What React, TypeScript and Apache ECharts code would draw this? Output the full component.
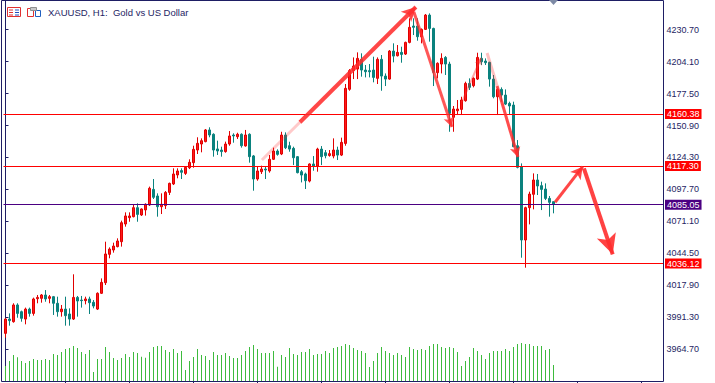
import React, { useEffect, useRef } from "react";
import * as echarts from "echarts";

// ---- Data (XAUUSD H1) ----
const opens = [
  3978.1, 3990.0, 3987.8, 4001.7, 3996.1, 3990.0, 3998.3, 3994.7, 4006.9, 4007.2,
  4010.0, 4007.2, 4008.6, 4003.1, 3996.1, 3998.3, 3994.2, 3990.0, 4008.0, 4005.8,
  4005.3, 4006.7, 4003.9, 3998.3, 4011.4, 4020.2, 4043.8, 4047.4, 4050.2, 4054.3,
  4069.0, 4074.3, 4075.1, 4082.6, 4076.5, 4080.7, 4084.8, 4097.8, 4092.3, 4083.4,
  4084.3, 4095.3, 4102.3, 4109.8, 4113.4, 4111.1, 4115.8, 4120.0, 4130.5, 4135.5,
  4137.5, 4147.2, 4143.6, 4131.4, 4130.5, 4129.2, 4135.5, 4143.0, 4141.6, 4143.6,
  4133.9, 4143.6, 4125.6, 4106.4, 4112.5, 4114.7, 4113.1, 4122.8, 4129.7, 4127.2,
  4143.0, 4134.1, 4131.9, 4125.0, 4112.5, 4110.6, 4104.7, 4118.9, 4117.2, 4131.3,
  4128.3, 4126.0, 4125.5, 4130.5, 4126.3, 4136.0, 4181.0, 4196.5, 4197.8, 4205.9,
  4197.0, 4196.5, 4197.0, 4190.1, 4205.9, 4192.0, 4189.5, 4212.8, 4208.9, 4211.7,
  4210.3, 4220.0, 4233.6, 4233.6, 4224.7, 4230.8, 4242.7, 4231.6, 4194.8, 4202.0,
  4207.5, 4202.0, 4157.7, 4163.2, 4164.3, 4171.5, 4185.9, 4184.0, 4189.5, 4206.7,
  4204.5, 4203.4, 4189.5, 4174.8, 4180.9, 4176.2, 4169.3, 4167.9, 4134.1, 4116.7,
  4055.7, 4082.6, 4093.7, 4105.6, 4100.9, 4098.1, 4090.3, 4087.6,
];
const closes = [
  3990.0, 3988.7, 4001.7, 3994.7, 3990.6, 3998.3, 3994.7, 4006.7, 4008.0, 4010.0,
  4006.7, 4008.6, 4003.1, 3996.1, 3998.3, 3992.8, 3990.0, 4008.0, 4005.0, 4005.3,
  4006.7, 4003.6, 4000.8, 4011.4, 4020.5, 4044.1, 4048.2, 4050.7, 4054.9, 4070.1,
  4075.7, 4075.7, 4082.6, 4077.0, 4081.5, 4085.4, 4098.7, 4091.2, 4083.4, 4085.4,
  4095.3, 4102.8, 4110.6, 4113.1, 4112.0, 4116.1, 4120.3, 4131.1, 4136.1, 4138.3,
  4147.2, 4143.0, 4130.5, 4129.7, 4129.2, 4135.5, 4142.2, 4142.2, 4143.6, 4134.1,
  4143.0, 4125.0, 4106.4, 4113.1, 4114.7, 4113.9, 4122.8, 4129.7, 4126.9, 4143.0,
  4132.4, 4131.3, 4124.1, 4111.7, 4109.7, 4105.0, 4118.9, 4117.2, 4131.3, 4125.0,
  4125.8, 4127.5, 4130.5, 4126.3, 4136.9, 4181.8, 4196.5, 4200.3, 4206.7, 4197.0,
  4195.6, 4195.6, 4190.9, 4205.9, 4192.0, 4189.5, 4212.8, 4208.6, 4211.7, 4210.0,
  4220.0, 4232.5, 4232.5, 4224.7, 4230.8, 4242.7, 4231.6, 4195.1, 4202.6, 4206.7,
  4202.0, 4161.0, 4164.6, 4164.6, 4172.1, 4185.9, 4182.6, 4190.1, 4207.5, 4203.9,
  4203.1, 4189.5, 4174.8, 4180.9, 4176.2, 4168.7, 4167.1, 4133.3, 4116.1, 4055.7,
  4082.6, 4093.9, 4105.6, 4100.6, 4097.8, 4090.3, 4087.0, 4085.6,
];
const lows = [
  3974.5, 3984.5, 3987.0, 3991.1, 3987.8, 3985.6, 3992.0, 3992.8, 4003.1, 4003.6,
  4004.4, 4003.1, 3993.4, 3992.0, 3992.0, 3984.5, 3984.5, 3989.2, 3992.0, 3999.5,
  4002.2, 3994.2, 3998.9, 3997.5, 4010.8, 4018.3, 4040.5, 4045.2, 4049.6, 4050.2,
  4066.8, 4070.9, 4074.5, 4070.9, 4075.7, 4076.0, 4084.0, 4089.8, 4075.1, 4077.3,
  4081.5, 4093.1, 4101.4, 4107.0, 4106.4, 4109.8, 4114.7, 4115.8, 4127.2, 4128.6,
  4136.9, 4141.1, 4125.0, 4126.4, 4125.0, 4128.3, 4134.1, 4136.6, 4139.7, 4132.5,
  4133.3, 4120.0, 4096.7, 4105.0, 4110.6, 4106.4, 4111.7, 4122.2, 4125.8, 4126.3,
  4131.3, 4129.1, 4118.0, 4111.1, 4103.6, 4098.1, 4103.6, 4113.3, 4112.5, 4118.0,
  4123.6, 4125.0, 4123.6, 4122.2, 4125.5, 4134.1, 4179.8, 4189.5, 4189.5, 4191.5,
  4190.9, 4190.9, 4186.8, 4185.4, 4179.8, 4183.7, 4189.0, 4203.4, 4208.3, 4203.1,
  4209.5, 4219.2, 4226.1, 4221.4, 4219.2, 4230.3, 4220.6, 4183.7, 4190.1, 4194.2,
  4192.9, 4145.7, 4145.7, 4159.6, 4159.6, 4170.7, 4180.4, 4182.6, 4188.7, 4201.2,
  4201.2, 4183.2, 4173.5, 4159.6, 4170.7, 4167.9, 4159.6, 4133.0, 4115.3, 4041.0,
  4032.7, 4068.7, 4081.2, 4093.1, 4080.6, 4088.9, 4075.1, 4077.9,
];
const highs = [
  3990.6, 3994.7, 4003.1, 4003.1, 3997.0, 3999.5, 3999.5, 4007.8, 4010.0, 4010.8,
  4014.1, 4010.0, 4009.2, 4008.6, 4001.7, 4008.6, 3998.9, 4027.2, 4009.2, 4009.2,
  4008.6, 4008.6, 4005.8, 4012.2, 4023.8, 4054.3, 4049.6, 4053.5, 4057.1, 4071.8,
  4078.7, 4078.7, 4085.6, 4086.2, 4082.0, 4086.2, 4100.1, 4106.4, 4094.5, 4094.5,
  4096.4, 4103.4, 4115.3, 4115.3, 4115.3, 4117.2, 4122.8, 4134.1, 4141.1, 4140.2,
  4148.0, 4149.4, 4144.4, 4138.3, 4133.3, 4137.5, 4146.3, 4144.4, 4144.9, 4144.4,
  4147.2, 4144.4, 4126.4, 4116.7, 4117.5, 4116.7, 4126.4, 4132.5, 4131.1, 4145.7,
  4145.2, 4137.4, 4133.3, 4125.5, 4113.9, 4111.7, 4119.4, 4125.5, 4132.4, 4133.8,
  4130.5, 4130.5, 4140.2, 4133.3, 4140.8, 4185.4, 4197.8, 4207.5, 4211.7, 4210.9,
  4201.2, 4202.0, 4208.1, 4207.5, 4209.5, 4194.2, 4213.6, 4219.2, 4217.8, 4216.4,
  4220.6, 4240.0, 4240.0, 4240.0, 4231.6, 4243.6, 4244.1, 4232.2, 4203.4, 4210.9,
  4208.6, 4203.9, 4167.1, 4172.1, 4174.8, 4187.3, 4190.1, 4190.9, 4211.4, 4211.4,
  4206.7, 4203.9, 4192.9, 4181.8, 4182.6, 4180.9, 4170.7, 4170.7, 4138.8, 4119.4,
  4083.4, 4095.9, 4111.1, 4110.6, 4104.2, 4102.8, 4092.3, 4087.6,
];
// tick volume
const volumes = [
  450, 600, 780, 710, 600, 540, 600, 660, 630, 630, 660, 630, 810, 780, 870, 960, 990, 1050, 990, 870,
  810, 930, 270, 660, 660, 1020, 870, 690, 630, 690, 810, 720, 870, 840, 730, 700, 870, 1020, 1050, 1050,
  930, 870, 960, 840, 900, 330, 600, 720, 960, 780, 750, 630, 870, 780, 780, 840, 750, 690, 690, 780,
  900, 1020, 1080, 960, 840, 840, 840, 900, 430, 780, 720, 990, 810, 780, 870, 870, 960, 780, 810, 810,
  900, 840, 990, 1020, 1050, 1110, 1080, 990, 930, 900, 840, 420, 600, 840, 1020, 900, 840, 780, 840, 780,
  720, 1020, 960, 930, 960, 930, 1050, 1110, 1110, 1020, 990, 1020, 990, 870, 450, 600, 720, 990, 900, 780,
  660, 840, 900, 900, 900, 960, 900, 1020, 1110, 1140, 1110, 1110, 1050, 1050, 1050, 930, 960, 480,
];
const SLOT_COUNT = 165;
const categories = Array.from({ length: SLOT_COUNT }, (_, i) => `H${i}`);
const priceTicks = [3964.7, 3991.3, 4017.9, 4044.5, 4071.1, 4097.7, 4124.3, 4150.9, 4177.5, 4204.1, 4230.7];
const timeTickIdx = [15, 31, 47, 63, 79, 95, 111, 127, 143, 159];
const levels = [
  { value: 4160.38, color: "#ff0000" },
  { value: 4117.3, color: "#ff0000" },
  { value: 4085.05, color: "#4b0082" },
  { value: 4036.12, color: "#ff0000" },
];
// arrows: [fromIdx, fromPrice, toIdx, toPrice, opacity, width, headW, headL]
const arrows = [
  [64.1, 4122.2, 73.6, 4153.6, 0.25, 3, 0, 0],
  [73.6, 4153.6, 102.6, 4249.4, 0.88, 4, 11, 14],
  [102.1, 4245.2, 111.6, 4149.7, 0.8, 3, 8, 10],
  [114.1, 4170.4, 118.9, 4207.0, 0.4, 2, 6, 7],
  [120.4, 4211.2, 122.9, 4183.7, 0.3, 3, 0, 0],
  [122.9, 4183.7, 128.1, 4124.7, 0.85, 3, 8, 10],
  [137.4, 4087.1, 144.3, 4116.7, 0.88, 3, 10, 12],
  [144.6, 4115.3, 151.8, 4043.8, 0.9, 4, 15, 20],
];

const NAVY = "#1e1e64";
const BULL = "#ff1a1a";
const BULL_BORDER = "#e00000";
const BEAR = "#0a827e";
const VOL = "#3dbb3d";

export default function App() {
  const ref = useRef<HTMLDivElement>(null);
  useEffect(() => {
    if (!ref.current) return;
    const chart = echarts.init(ref.current, null, { renderer: "svg" });
    const candles = opens.map((o, i) => [o, closes[i], lows[i], highs[i]]);
    const font = "Liberation Sans, Arial, sans-serif";
    chart.setOption({
      animation: false,
      backgroundColor: "#ffffff",
      grid: { left: 3.5, right: 51.5, top: 1, bottom: 2, containLabel: false },
      xAxis: [
        { type: "category", data: categories, boundaryGap: true, show: false },
        {
          type: "value",
          min: -0.5,
          max: SLOT_COUNT - 0.5,
          position: "bottom",
          axisLine: { show: false },
          splitLine: { show: false },
          axisLabel: { show: false },
          axisTick: { show: true, customValues: timeTickIdx, length: 2, lineStyle: { color: NAVY } },
        },
      ],
      yAxis: [
        {
          type: "value",
          position: "right",
          min: 3938.5,
          max: 4254.4,
          splitLine: { show: false },
          axisLine: { show: true, lineStyle: { color: NAVY } },
          axisTick: { show: true, customValues: priceTicks, length: 3, lineStyle: { color: NAVY } },
          axisLabel: {
            customValues: priceTicks,
            formatter: (v: number) => v.toFixed(2),
            color: NAVY,
            fontSize: 9,
            fontFamily: font,
            margin: 3,
          },
        },
        { type: "value", min: 0, max: 11400, show: false },
      ],
      series: [
        {
          type: "bar",
          xAxisIndex: 0,
          yAxisIndex: 1,
          data: volumes,
          barWidth: 1,
          itemStyle: { color: VOL },
          silent: true,
        },
        {
          type: "candlestick",
          xAxisIndex: 0,
          yAxisIndex: 0,
          data: candles,
          barWidth: 2,
          itemStyle: {
            color: BULL,
            color0: BEAR,
            borderColor: BULL_BORDER,
            borderColor0: BEAR,
            borderWidth: 1,
          },
          markLine: {
            silent: true,
            symbol: ["none", "none"],
            data: levels.map((l) => ({
              yAxis: l.value,
              lineStyle: { color: l.color, width: 1, type: "solid" },
              label: {
                show: true,
                position: "end",
                distance: 1.5,
                formatter: (p: any) => Number(p.value).toFixed(2),
                color: "#ffffff",
                backgroundColor: l.color,
                padding: [1, 2, 0, 2],
                fontSize: 9,
                fontFamily: font,
              },
            })),
          },
        },
        {
          type: "line",
          xAxisIndex: 1,
          yAxisIndex: 0,
          data: [[0, 4000]],
          showSymbol: false,
          symbol: "none",
          lineStyle: { width: 0 },
          silent: true,
          markLine: {
            silent: true,
            animation: false,
            label: { show: false },
            data: arrows.map((a) => [
              { coord: [a[0], a[1]], symbol: "none" },
              {
                coord: [a[2], a[3]],
                symbol: a[6] > 0 ? "arrow" : "none",
                symbolSize: [a[6], a[7]],
                lineStyle: { color: `rgba(255,45,45,${a[4]})`, width: a[5], type: "solid" },
              },
            ]),
          },
        },
      ],
      graphic: [
        {
          type: "rect",
          shape: { x: 1.5, y: 0.5, width: 662, height: 381 },
          style: { fill: "none", stroke: NAVY, lineWidth: 1 },
          silent: true,
          z: 10,
        },
        {
          type: "polygon",
          shape: { points: [[549, 0], [558, 0], [553.5, 5]] },
          style: { fill: "#7d8aa5" },
          z: 11,
        },
        // icons
        { type: "rect", shape: { x: 7.5, y: 7.5, width: 13, height: 9 }, style: { fill: "#fff", stroke: "#e03030", lineWidth: 1 }, z: 11 },
        { type: "line", shape: { x1: 9, y1: 10, x2: 13, y2: 10 }, style: { stroke: "#e03030", lineWidth: 1 }, z: 12 },
        { type: "line", shape: { x1: 9, y1: 12.5, x2: 13, y2: 12.5 }, style: { stroke: "#e03030", lineWidth: 1 }, z: 12 },
        { type: "line", shape: { x1: 9, y1: 15, x2: 13, y2: 15 }, style: { stroke: "#e03030", lineWidth: 1 }, z: 12 },
        { type: "line", shape: { x1: 15, y1: 10, x2: 19, y2: 10 }, style: { stroke: "#2050c0", lineWidth: 1 }, z: 12 },
        { type: "line", shape: { x1: 15, y1: 12.5, x2: 19, y2: 12.5 }, style: { stroke: "#2050c0", lineWidth: 1 }, z: 12 },
        { type: "line", shape: { x1: 15, y1: 15, x2: 19, y2: 15 }, style: { stroke: "#2050c0", lineWidth: 1 }, z: 12 },
        { type: "rect", shape: { x: 27.5, y: 8.5, width: 6, height: 8 }, style: { fill: "#fff", stroke: "#e03030", lineWidth: 1 }, z: 11 },
        { type: "rect", shape: { x: 30.5, y: 7.5, width: 6, height: 3 }, style: { fill: "#c8c8c8", stroke: "#909090", lineWidth: 1 }, z: 12 },
        { type: "rect", shape: { x: 35.5, y: 10.5, width: 5, height: 6 }, style: { fill: "#fff", stroke: "#2060c0", lineWidth: 1 }, z: 11 },
        {
          type: "text",
          x: 48,
          y: 12,
          style: {
            text: "XAUUSD, H1:  Gold vs US Dollar",
            fill: NAVY,
            font: `9.5px ${font}`,
            textVerticalAlign: "middle",
            textAlign: "left",
          },
          z: 11,
        },
      ],
    });
    return () => chart.dispose();
  }, []);
  return <div ref={ref} style={{ position: "fixed", left: 0, top: 0, width: 715, height: 383 }} />;
}
